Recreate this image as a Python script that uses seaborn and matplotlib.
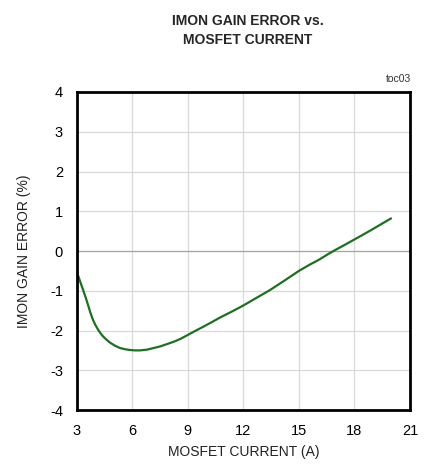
import numpy as np
import pandas as pd
import seaborn as sns
import matplotlib
matplotlib.use("Agg")
import matplotlib.pyplot as plt

current_a = [3.0, 3.15, 3.33, 3.47, 3.6, 3.73, 3.87, 4.0, 4.15, 4.28, 4.42, 4.6, 4.78, 5.05, 5.33, 5.6, 5.87, 6.15, 6.42, 6.8, 7.15, 7.5, 7.88, 8.25, 8.6, 9.0, 9.4, 9.81, 10.25, 10.71, 11.35, 12.0, 12.7, 13.41, 14.2, 15.0, 15.56, 16.12, 16.57, 17.02, 17.5, 18.0, 18.5, 18.99, 19.5, 19.98]
gain_error = [-0.53, -0.73, -0.97, -1.16, -1.35, -1.55, -1.73, -1.86, -1.98, -2.07, -2.15, -2.23, -2.30, -2.38, -2.44, -2.47, -2.49, -2.50, -2.50, -2.48, -2.44, -2.40, -2.34, -2.28, -2.21, -2.11, -2.01, -1.91, -1.80, -1.68, -1.53, -1.37, -1.18, -0.99, -0.75, -0.50, -0.35, -0.21, -0.08, 0.04, 0.16, 0.29, 0.42, 0.55, 0.69, 0.82]

x_ticks = [3, 6, 9, 12, 15, 18, 21]
y_ticks = [-4, -3, -2, -1, 0, 1, 2, 3, 4]

sns.set_theme(style="white")
plt.rcParams["font.family"] = ["Liberation Sans", "DejaVu Sans"]

fig = plt.figure(figsize=(4.27, 4.67), dpi=100)
ax = fig.add_axes([0.180, 0.122, 0.780, 0.681])

df = pd.DataFrame({"x": current_a, "y": gain_error})
sns.lineplot(data=df, x="x", y="y", ax=ax, color="#1f6e23", linewidth=1.6, sort=False)

ax.set_xlim(3, 21)
ax.set_ylim(-4, 4)
ax.set_xticks(x_ticks)
ax.set_yticks(y_ticks)
ax.set_xticklabels([str(t) for t in x_ticks], fontsize=10.5)
ax.set_yticklabels([str(t) for t in y_ticks], fontsize=10.5)
ax.grid(True, color="#d9d9d9", linewidth=0.9)
ax.axhline(0, color="#a6a6a6", linewidth=0.9, zorder=1)
for s in ax.spines.values():
    s.set_color("black")
    s.set_linewidth(2)
ax.tick_params(axis="y", length=0, pad=10, colors="black")
ax.tick_params(axis="x", length=0, pad=10, colors="black")
ax.set_xlabel("MOSFET CURRENT (A)", fontsize=10, color="#222222", labelpad=5)
ax.set_ylabel("IMON GAIN ERROR (%)", fontsize=10, color="#222222", labelpad=14)

fig.text(0.58, 0.935, "IMON GAIN ERROR vs.\nMOSFET CURRENT", ha="center", va="center",
         fontsize=10, fontweight="bold", linespacing=1.5)
fig.text(0.962, 0.830, "toc03", ha="right", va="center", fontsize=7.5, color="#333333")

fig.savefig("out.png", dpi=100)
